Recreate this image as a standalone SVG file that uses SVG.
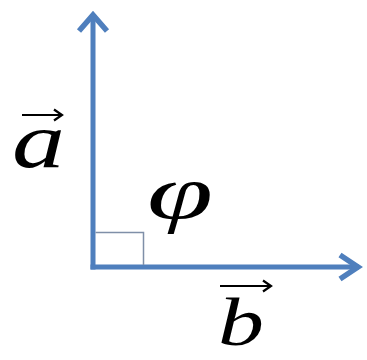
<svg xmlns="http://www.w3.org/2000/svg" width="367" height="360" viewBox="0 0 367 360">
<style>
.vec{fill:none;stroke:#4f7fbd;stroke-width:5;}
.head{fill:none;stroke:#4f7fbd;stroke-width:5.5;stroke-linecap:butt;stroke-linejoin:miter;}
.lbl{font-family:"Liberation Serif","Times New Roman",serif;font-style:italic;fill:#000;}
.over{fill:none;stroke:#000;stroke-width:2.2;}
.sq{fill:none;stroke:#7f8fa8;stroke-width:1.5;}
</style>
<rect width="367" height="360" fill="#fff"/>
<g id="connectors">
<line class="vec" x1="93" y1="269.5" x2="93" y2="14"/>
<polyline class="head" points="79,31 93,15 107,31"/>
<line class="vec" x1="90.5" y1="267" x2="359" y2="267"/>
<polyline class="head" points="340,255 358,267 340,279"/>
</g>
<g id="right-angle">
<polyline class="sq" points="95.5,232.5 143.5,232.5 143.5,265"/>
</g>
<g id="label-a">
<text class="lbl" x="12" y="167" font-size="78" textLength="53" lengthAdjust="spacingAndGlyphs">a</text>
<path class="over" d="M22,115 H62 M54,109.5 L62,115 L54,120.5"/>
</g>
<g id="label-phi">
<text class="lbl" x="147" y="218" font-size="76" textLength="66" lengthAdjust="spacingAndGlyphs">φ</text>
</g>
<g id="label-b">
<text class="lbl" x="218" y="345" font-size="68" textLength="46" lengthAdjust="spacingAndGlyphs">b</text>
<path class="over" d="M220,286 H271 M263,280.5 L271,286 L263,291.5"/>
</g>
</svg>
